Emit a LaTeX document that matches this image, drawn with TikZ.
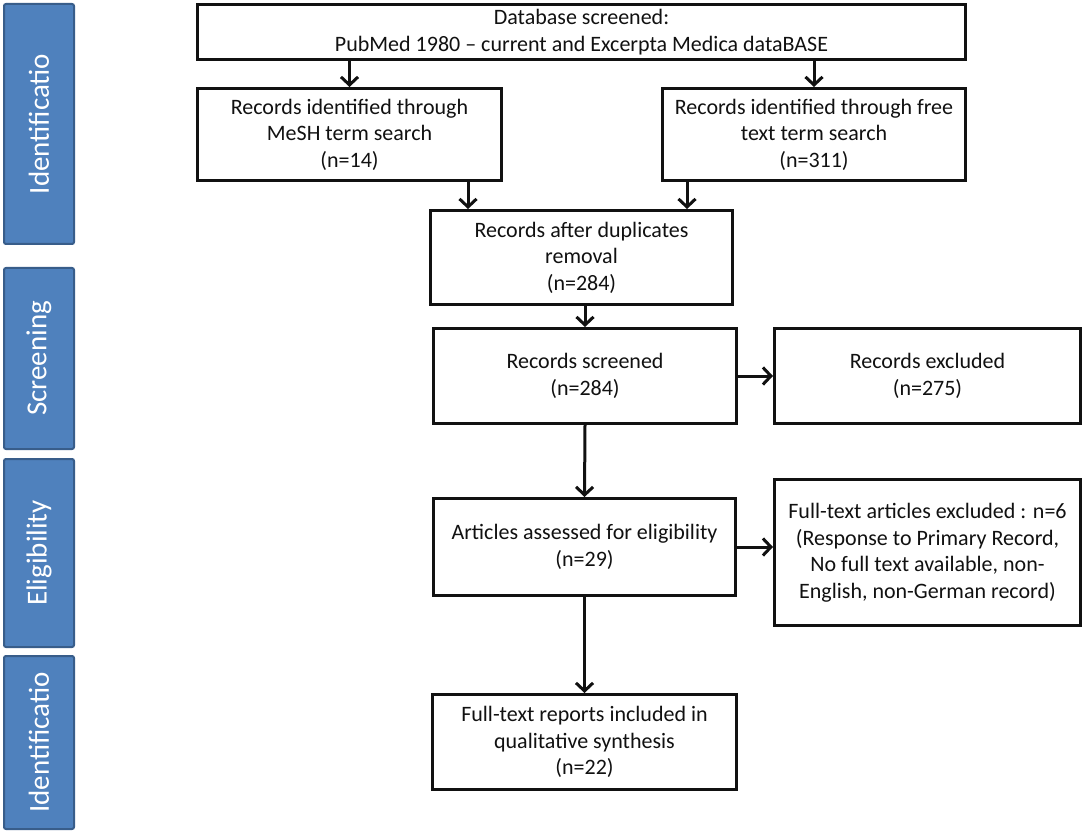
\documentclass[tikz,border=0pt]{standalone}
\usepackage{fontspec}
\setmainfont{Carlito}
\usetikzlibrary{arrows.meta}
\definecolor{phase}{HTML}{4F81BD}
\definecolor{phaseline}{HTML}{385D8A}
\definecolor{ink}{HTML}{111111}
\begin{document}
\begin{tikzpicture}[x=1pt,y=-1pt,
  box/.style={draw=ink, line width=3pt, fill=white, inner sep=0pt, align=center,
              font=\fontsize{22}{26.5}\selectfont, text=ink},
  phasebox/.style={draw=phaseline, line width=2pt, fill=phase, rounded corners=2pt,
              inner sep=0pt, minimum width=70pt},
  phasetext/.style={text=white, rotate=90, font=\fontsize{29}{32}\selectfont},
  arr/.style={draw=ink, line width=3pt, -{Straight Barb[length=8pt,width=17pt,line width=3pt]}}]
\useasboundingbox (0,0) rectangle (1084,834);
\fill[white] (0,0) rectangle (1084,834);

% phase labels
\node[phasebox, minimum height=240pt] (p1) at (39,124) {};
\node[phasetext] (p1t) at (p1.center) {Identificatio};
\node[phasebox, minimum height=181pt] (p2) at (39,358.5) {};
\node[phasetext] (p2t) at (p2.center) {Screening};
\node[phasebox, minimum height=188pt] (p3) at (39,553) {};
\node[phasetext] (p3t) at (p3.center) {Eligibility};
\node[phasebox, minimum height=173pt] (p4) at (39,742.5) {};
\node[phasetext] (p4t) at (p4.center) {Identificatio};

% boxes
\node[box, minimum width=768pt, minimum height=55pt] (db) at (581.5,32)
  {Database screened:\\PubMed 1980 -- current and Excerpta Medica dataBASE};
\node[box, minimum width=304pt, minimum height=92pt] (mesh) at (349.5,134.5)
  {Records identified through\\MeSH term search\\(n=14)};
\node[box, minimum width=303pt, minimum height=92pt] (free) at (814,134.5)
  {Records identified through free\\text term search\\(n=311)};
\node[box, minimum width=302pt, minimum height=94pt] (dup) at (581.5,257.5)
  {Records after duplicates\\removal\\(n=284)};
\node[box, minimum width=303pt, minimum height=95pt] (scr) at (585,376)
  {Records screened\\(n=284)};
\node[box, minimum width=306pt, minimum height=95pt] (exc) at (927.5,376)
  {Records excluded\\(n=275)};
\node[box, minimum width=302pt, minimum height=97pt] (elig) at (584.5,547)
  {Articles assessed for eligibility\\(n=29)};
\node[box, minimum width=306pt, minimum height=146pt] (ftexc) at (927.5,552.5)
  {Full-text articles excluded : n=6\\(Response to Primary Record,\\No full text available, non-\\English, non-German record)};
\node[box, minimum width=304pt, minimum height=95pt] (final) at (584.5,742)
  {Full-text reports included in\\qualitative synthesis\\(n=22)};

% connectors
\draw[arr] (db.south -| mesh.north) -- (mesh.north);
\draw[arr] (db.south -| free.north) -- (free.north);
\draw[arr] (mesh.south -| 468,0) -- (dup.north -| 468,0);
\draw[arr] (free.south -| 687,0) -- (dup.north -| 687,0);
\draw[arr] (dup.south -| scr.north) -- (scr.north);
\draw[arr] (scr.east) -- (exc.west);
\draw[arr] (scr.south) -- (elig.north);
\draw[arr] (elig.east) -- (ftexc.west |- elig.east);
\draw[arr] (elig.south) -- (final.north);
\end{tikzpicture}
\end{document}
